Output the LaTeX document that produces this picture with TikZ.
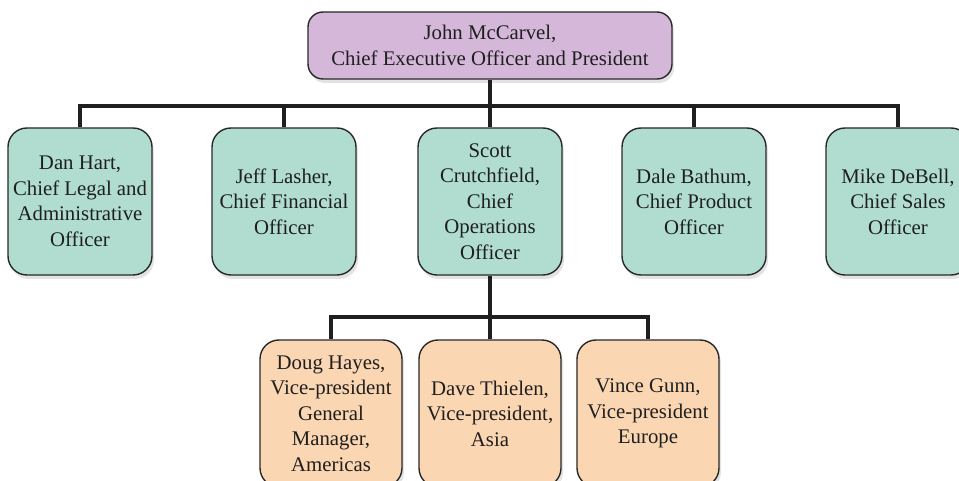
\documentclass[tikz,border=0pt]{standalone}
\usepackage{fontspec}
\setmainfont{Liberation Serif}
\usetikzlibrary{shadows}
\definecolor{ceofill}{RGB}{212,183,217}
\definecolor{chieffill}{RGB}{176,221,208}
\definecolor{vpfill}{RGB}{251,214,178}
\definecolor{boxline}{RGB}{40,40,40}
\begin{document}
\begin{tikzpicture}[x=1pt,y=-1pt,
  orgbox/.style={draw=boxline, line width=1.4pt, rounded corners=19pt, align=center,
    inner sep=1pt, font=\fontsize{20.8}{25.5}\selectfont, text=black!88,
    drop shadow={shadow xshift=2pt, shadow yshift=-4pt, opacity=0.22}},
  ceo/.style={orgbox, fill=ceofill, minimum width=364pt, minimum height=67pt, rounded corners=15pt},
  chief/.style={orgbox, fill=chieffill, minimum width=144pt, minimum height=147pt},
  vp/.style={orgbox, fill=vpfill, minimum width=142pt, minimum height=147pt},
  link/.style={line width=3.2pt, draw=black!88}]
\useasboundingbox (0,0) rectangle (959,481);
\node[ceo] (top) at (490,45.5) {John McCarvel,\\Chief Executive Officer and President};
\node[chief] (b1) at (80,201.5) {Dan Hart,\\Chief Legal and\\Administrative\\Officer};
\node[chief] (b2) at (284,201.5) {Jeff Lasher,\\Chief Financial\\Officer};
\node[chief] (b3) at (490,201.5) {Scott\\Crutchfield,\\Chief\\Operations\\Officer};
\node[chief] (b4) at (694,201.5) {Dale Bathum,\\Chief Product\\Officer};
\node[chief] (b5) at (898,201.5) {Mike DeBell,\\Chief Sales\\Officer};
\node[vp] (o1) at (331,413.5) {Doug Hayes,\\Vice-president\\General\\Manager,\\Americas};
\node[vp] (o2) at (490,413.5) {Dave Thielen,\\Vice-president,\\Asia};
\node[vp] (o3) at (648,413.5) {Vince Gunn,\\Vice-president\\Europe};
\coordinate (bus1) at (490,106);
\coordinate (bus2) at (490,317);
\draw[link] (top.south) -- (bus1) -- (b3.north);
\draw[link] (b1.north) |- (bus1) -| (b5.north);
\draw[link] (b2.north) -- (b2.north |- bus1);
\draw[link] (b4.north) -- (b4.north |- bus1);
\draw[link] (b3.south) -- (bus2) -- (o2.north);
\draw[link] (o1.north) |- (bus2) -| (o3.north);
\end{tikzpicture}
\end{document}
